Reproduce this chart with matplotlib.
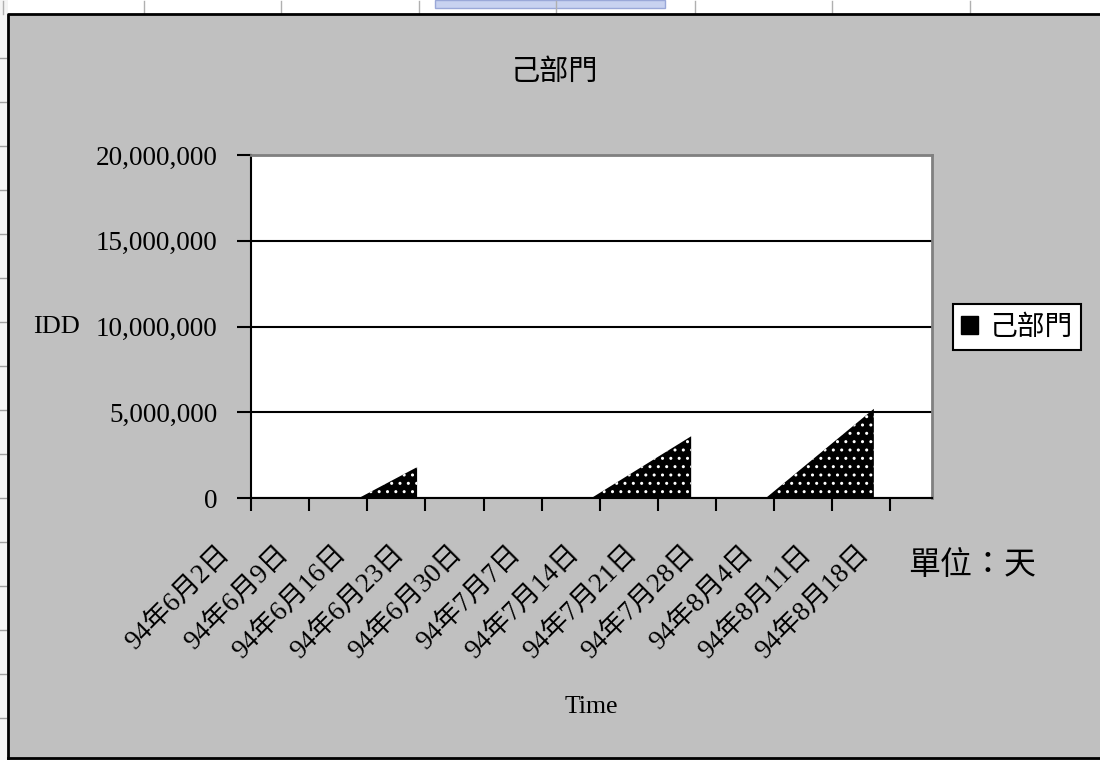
import numpy as np
import pandas as pd
import matplotlib
matplotlib.use('Agg')
import matplotlib.pyplot as plt
import matplotlib.transforms as mtransforms
from matplotlib.patches import Patch, Rectangle
from matplotlib.lines import Line2D
from matplotlib.ticker import FuncFormatter

plt.rcParams['font.family'] = ['Liberation Serif', 'Noto Sans CJK TC']
plt.rcParams['hatch.linewidth'] = 1.0

title = '己部門'
series_name = '己部門'
y_label = 'IDD'
x_label = 'Time'
unit_note = '單位：天'

# weekly category ticks (ROC year 94 = 2005)
tick_dates = pd.date_range('2005-06-02', periods=12, freq='7D')
tick_labels = ['94年6月2日', '94年6月9日', '94年6月16日', '94年6月23日',
               '94年6月30日', '94年7月7日', '94年7月14日', '94年7月21日',
               '94年7月28日', '94年8月4日', '94年8月11日', '94年8月18日']
x_start = '2005-06-02'
x_end = '2005-08-23'

# three runs of data separated by blanks
run1_dates = ['2005-06-15', '2005-06-22']
run1_values = [0, 1800000]
run2_dates = ['2005-07-13', '2005-07-25']
run2_values = [0, 3600000]
run3_dates = ['2005-08-03', '2005-08-16']
run3_values = [0, 5200000]

W, H = 1100, 760
fig = plt.figure(figsize=(W / 100, H / 100), dpi=100)
fig.patch.set_facecolor('#c0c0c0')

def fx(px):
    return px / W

def fy(py):
    return 1 - py / H

# spreadsheet bits around the chart object
fig.add_artist(Rectangle((0, fy(14)), 1, 14 / H, transform=fig.transFigure,
                         facecolor='white', edgecolor='none'))
fig.add_artist(Rectangle((0, 0), fx(8), 1, transform=fig.transFigure,
                         facecolor='#f4f4f4', edgecolor='none'))
for xc in [3, 144, 281, 419, 556, 695, 832, 970]:
    fig.add_artist(Line2D([fx(xc), fx(xc)], [fy(1), fy(14)], transform=fig.transFigure,
                          color='#b0b0b0', lw=1))
for yr in range(58, 760, 44):
    fig.add_artist(Line2D([0, fx(6)], [fy(yr), fy(yr)], transform=fig.transFigure,
                          color='#a0a0a0', lw=1))
fig.add_artist(Rectangle((fx(435), fy(8)), fx(230), 8 / H, transform=fig.transFigure,
                         facecolor='#c8d2f0', edgecolor='#9aa8d8', lw=1))
fig.add_artist(Line2D([fx(8), fx(8), 1], [fy(758), fy(14), fy(14)],
                      transform=fig.transFigure, color='black', lw=2))
fig.add_artist(Line2D([fx(8), 1], [fy(758), fy(758)],
                      transform=fig.transFigure, color='black', lw=2))

ax = fig.add_axes([fx(251), fy(498), fx(932 - 251), (498 - 155) / H])
ax.set_facecolor('white')

for d, v in [(run1_dates, run1_values), (run2_dates, run2_values), (run3_dates, run3_values)]:
    ax.fill_between(pd.to_datetime(d), 0, v, facecolor='black', edgecolor='white',
                    hatch='..', linewidth=0, zorder=3)

ax.set_xlim(pd.Timestamp(x_start), pd.Timestamp(x_end))
ax.set_ylim(0, 20000000)
ax.set_yticks(np.arange(0, 20000001, 5000000))
ax.yaxis.set_major_formatter(FuncFormatter(lambda v, p: f'{v:,.0f}'))
ax.grid(axis='y', color='black', lw=1.5, zorder=1)
ax.set_axisbelow(True)

ax.set_xticks(tick_dates)
ax.set_xticklabels(tick_labels, rotation=45, ha='right', va='top', fontsize=19.5)
ax.tick_params(axis='x', direction='out', length=9, width=1.5, pad=22)
ax.tick_params(axis='y', direction='out', length=10, width=1.5, pad=14, labelsize=19.5)
shift = mtransforms.ScaledTranslation(-16 / 100, 0, fig.dpi_scale_trans)
for lab in ax.get_xticklabels():
    lab.set_transform(lab.get_transform() + shift)

for s in ['left', 'bottom']:
    ax.spines[s].set_color('black')
    ax.spines[s].set_linewidth(1.5)
for s in ['top', 'right']:
    ax.spines[s].set_color('#808080')
    ax.spines[s].set_linewidth(2)

fig.text(fx(555), fy(72), title, ha='center', va='center', fontsize=21,
         family=['Noto Sans CJK TC'])
fig.text(fx(80), fy(327), y_label, ha='right', va='center', fontsize=19)
fig.text(fx(591), fy(707), x_label, ha='center', va='center', fontsize=18.5)
fig.text(fx(908), fy(565), unit_note, ha='left', va='center', fontsize=23,
         family=['Noto Sans CJK TC'])

handle = Patch(facecolor='black', edgecolor='black', linewidth=1)
leg = fig.legend([handle], [series_name], loc='center left',
                 bbox_to_anchor=(fx(953), fy(327)), fancybox=False,
                 handlelength=0.6, handleheight=0.6, handletextpad=0.4,
                 borderpad=0.3, borderaxespad=0,
                 prop={'family': ['Noto Sans CJK TC'], 'size': 20})
leg.get_frame().set_edgecolor('black')
leg.get_frame().set_linewidth(1.5)
leg.get_frame().set_facecolor('white')
leg.get_frame().set_alpha(1)

fig.savefig('out.png', dpi=100, facecolor=fig.get_facecolor())
